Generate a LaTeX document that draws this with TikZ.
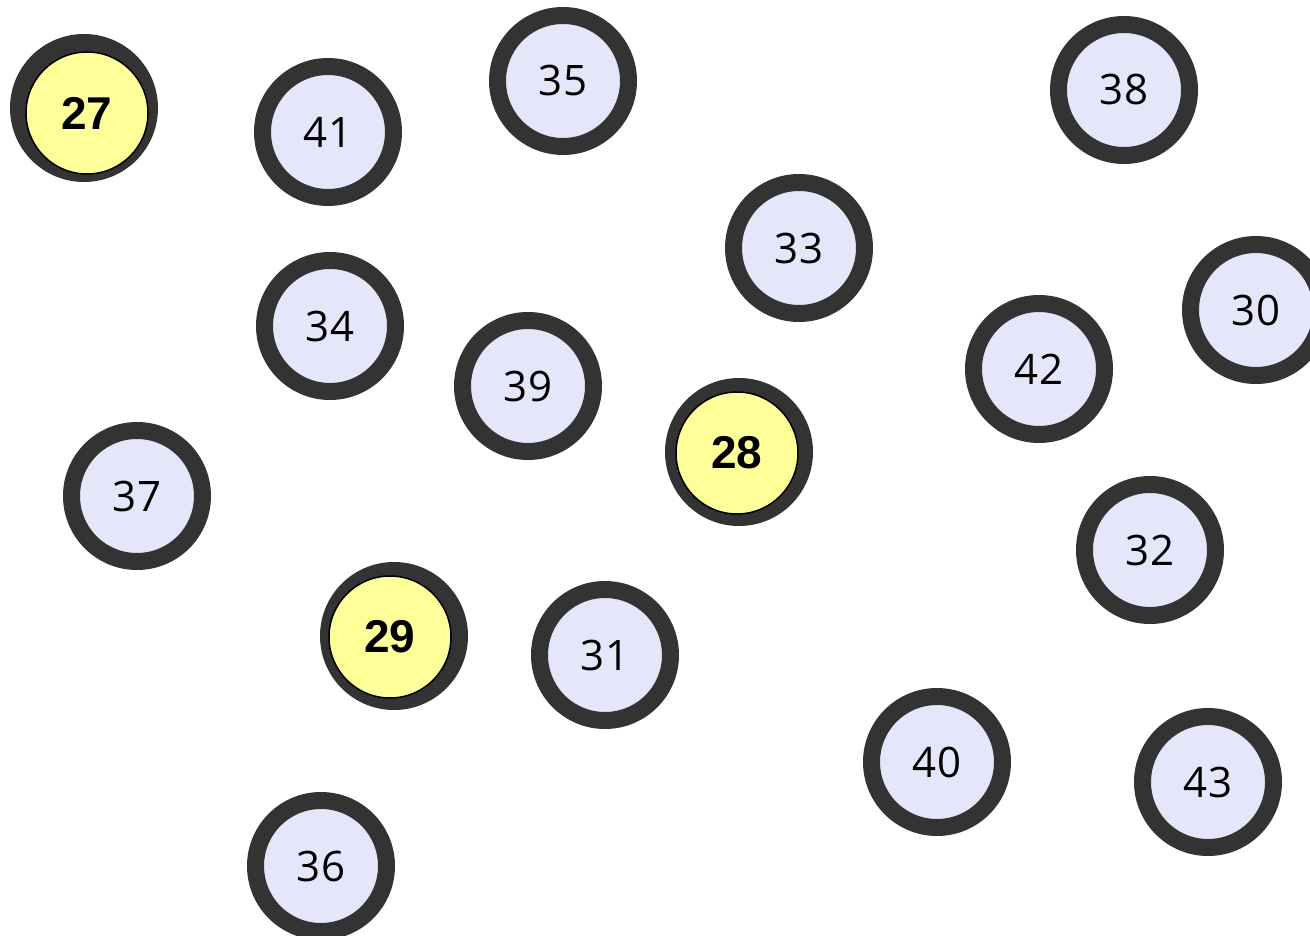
\documentclass[tikz,border=0pt]{standalone}
\usepackage{fontspec}
\setmainfont{Open Sans}
\newfontfamily\boldlabel{Liberation Sans}
\definecolor{ringgray}{HTML}{333333}
\definecolor{lavfill}{HTML}{E6E6FA}
\definecolor{yelfill}{HTML}{FFFF99}
\tikzset{
  vnode/.style={circle, draw=ringgray, line width=17pt, fill=lavfill,
    minimum size=131pt, inner sep=0pt, font=\fontsize{42}{42}\selectfont},
  darkring/.style={circle, draw=ringgray, line width=17pt, fill=ringgray,
    minimum size=131pt, inner sep=0pt},
  ynode/.style={circle, draw=black, line width=1.5pt, fill=yelfill,
    minimum size=122pt, inner sep=0pt, font=\boldlabel\bfseries\fontsize{46}{46}\selectfont}
}
\begin{document}
\begin{tikzpicture}[x=1pt,y=1pt]
\useasboundingbox (0,0) rectangle (1310,-936);
% lavender nodes
\node[vnode] (n41) at (328,-132) {41};
\node[vnode] (n35) at (563,-81) {35};
\node[vnode] (n38) at (1124,-90) {38};
\node[vnode] (n33) at (799,-248) {33};
\node[vnode] (n30) at (1256,-310) {30};
\node[vnode] (n34) at (330,-326) {34};
\node[vnode] (n39) at (528,-386) {39};
\node[vnode] (n42) at (1039,-369) {42};
\node[vnode] (n37) at (137,-496) {37};
\node[vnode] (n32) at (1150,-550) {32};
\node[vnode] (n31) at (605,-655) {31};
\node[vnode] (n40) at (937,-762) {40};
\node[vnode] (n43) at (1208,-782) {43};
\node[vnode] (n36) at (321,-866) {36};
% yellow nodes over dark rings
\node[darkring] (r27) at (84,-108) {};
\node[ynode] (n27) at (87,-113) {27};
\node[darkring] (r28) at (739,-452) {};
\node[ynode] (n28) at (737,-453) {28};
\node[darkring] (r29) at (394,-636) {};
\node[ynode] (n29) at (390,-637) {29};
\end{tikzpicture}
\end{document}
